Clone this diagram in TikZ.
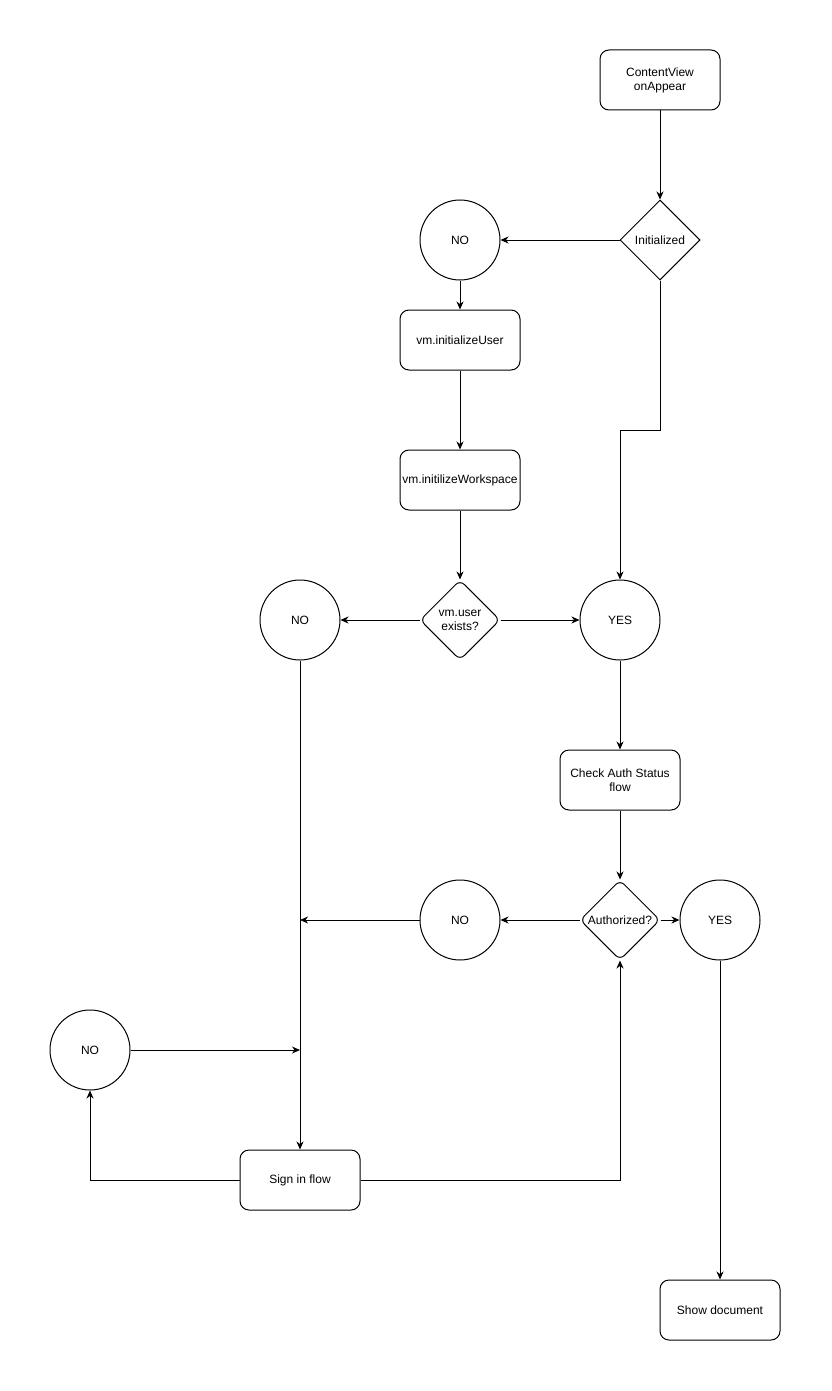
\documentclass[tikz,border=0pt]{standalone}
\usepackage{fontspec}
\setmainfont{Liberation Sans}
\usetikzlibrary{shapes.geometric,arrows.meta}
\tikzset{
  box/.style={draw, line width=1pt, rounded corners=9pt, minimum width=120pt, minimum height=60pt, inner sep=0pt, align=center, font=\fontsize{12}{14}\selectfont},
  circ/.style={draw, line width=1pt, circle, minimum size=80pt, inner sep=0pt, font=\fontsize{12}{14}\selectfont},
  dia/.style={draw, line width=1pt, diamond, minimum width=80pt, minimum height=80pt, inner sep=0pt},
  rdia/.style={dia, rounded corners=6pt},
  lbl/.style={align=center, inner sep=0pt, font=\fontsize{12}{14}\selectfont},
  conn/.style={line width=1pt, -{Stealth[length=8pt,width=7pt,inset=2.5pt]}},
  plain/.style={line width=1pt}
}
\begin{document}
\begin{tikzpicture}[x=1pt,y=-1pt]
\useasboundingbox (0,0) rectangle (831,1391);
\node[box] (cv) at (660,80) {ContentView\\onAppear};
\node[dia] (init) at (660,240) {};
\node[lbl] (initT) at (init.center) {Initialized};
\node[circ] (no1) at (460,240) {NO};
\node[box] (iu) at (460,340) {vm.initializeUser};
\node[box] (iw) at (460,480) {vm.initilizeWorkspace};
\node[rdia] (ue) at (460,620) {};
\node[lbl] (ueT) at (ue.center) {vm.user\\exists?};
\node[circ] (no2) at (300,620) {NO};
\node[circ] (yes1) at (620,620) {YES};
\node[box] (cas) at (620,780) {Check Auth Status\\flow};
\node[rdia] (auth) at (620,920) {};
\node[lbl] (authT) at (auth.center) {Authorized?};
\node[circ] (no3) at (460,920) {NO};
\node[circ] (yes2) at (720,920) {YES};
\node[circ] (no4) at (90,1050) {NO};
\node[box] (sif) at (300,1180) {Sign in flow};
\node[box] (sd) at (720,1310) {Show document};
\coordinate (j1) at (300,920);
\coordinate (j2) at (300,1050);

\draw[conn] (cv.south) -- (init.north);
\draw[conn] (init.west) -- (no1.east);
\draw[conn] (no1.south) -- (iu.north);
\draw[conn] (iu.south) -- (iw.north);
\draw[conn] (iw.south) -- (ue.north);
\draw[conn] (ue.west) -- (no2.east);
\draw[conn] (ue.east) -- (yes1.west);
\draw[conn] (init.south) -- (660,430) -- (620,430) -- (yes1.north);
\draw[conn] (yes1.south) -- (cas.north);
\draw[conn] (cas.south) -- (auth.north);
\draw[conn] (auth.west) -- (no3.east);
\draw[conn] (auth.east) -- (yes2.west);
\draw[conn] (no3.west) -- (j1);
\draw[conn] (no2.south) -- (sif.north);
\draw[conn] (no4.east) -- (j2);
\draw[conn] (sif.west) -| (no4.south);
\draw[conn] (sif.east) -| (auth.south);
\draw[conn] (yes2.south) -- (sd.north);
\end{tikzpicture}
\end{document}
